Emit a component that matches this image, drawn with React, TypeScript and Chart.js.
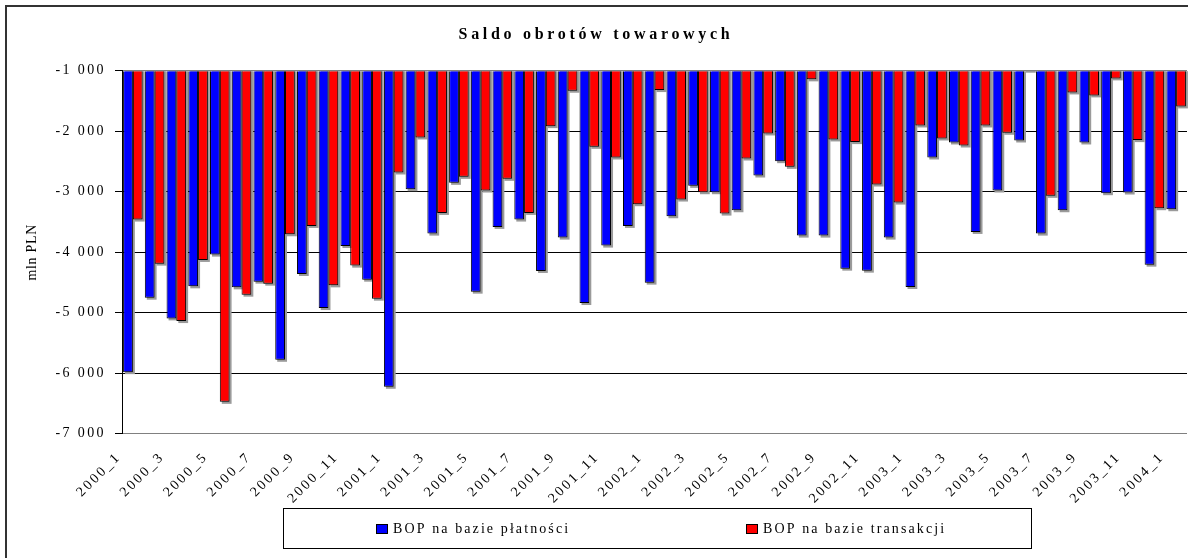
import React, { useEffect, useRef } from 'react';
import { Chart, registerables } from 'chart.js';

Chart.register(...registerables);

const chartTitle = 'Saldo obrotów towarowych';
const yAxisTitle = 'mln PLN';
const seriesNames = ['BOP na bazie płatności', 'BOP na bazie transakcji'];
const seriesColors = ['#0000FF', '#FF0000'];

const categories = [
  '2000_1', '2000_2', '2000_3', '2000_4', '2000_5', '2000_6', '2000_7', '2000_8', '2000_9', '2000_10', '2000_11', '2000_12',
  '2001_1', '2001_2', '2001_3', '2001_4', '2001_5', '2001_6', '2001_7', '2001_8', '2001_9', '2001_10', '2001_11', '2001_12',
  '2002_1', '2002_2', '2002_3', '2002_4', '2002_5', '2002_6', '2002_7', '2002_8', '2002_9', '2002_10', '2002_11', '2002_12',
  '2003_1', '2003_2', '2003_3', '2003_4', '2003_5', '2003_6', '2003_7', '2003_8', '2003_9', '2003_10', '2003_11', '2003_12',
  '2004_1',
];

const bopPlatnosci = [
  -5981, -4751, -5093, -4563, -4039, -4580, -4486, -5777, -4359, -4922, -3896, -4453,
  -6223, -2958, -3692, -2853, -4651, -3581, -3460, -4309, -3758, -4839, -3890, -3565,
  -4502, -3405, -2903, -3008, -3306, -2732, -2495, -3725, -3725, -4271, -4304, -3758,
  -4574, -2434, -2186, -3664, -2980, -2153, -3692, -3306, -2186, -3024, -3013, -4205,
  -3289,
];

const bopTransakcji = [
  -3460, -4188, -5137, -4127, -6472, -4701, -4519, -3703, -3565, -4547, -4221, -4767,
  -2682, -2103, -3350, -2754, -2980, -2787, -3350, -1916, -1331, -2258, -2434, -3206,
  -1320, -3129, -3008, -3361, -2451, -2037, -2589, -1143, -2136, -2180, -2881, -3179,
  -1905, -2120, -2236, -1905, -2026, null, -3068, -1359, -1408, -1127, -2147, -3272,
  -1590,
];

const yMin = -7000;
const yMax = -1000;
const yStep = 1000;

const FONT = "'Liberation Serif', 'Times New Roman', serif";

function formatTick(v: number): string {
  const s = String(Math.abs(v)).replace(/\B(?=(\d{3})+(?!\d))/g, ' ');
  return (v < 0 ? '-' : '') + s;
}

const decorPlugin = {
  id: 'decor',
  beforeUpdate(chart: any) {
    chart.ctx.letterSpacing = '2.4px';
  },
  beforeDraw(chart: any) {
    const ctx = chart.ctx;
    ctx.save();
    ctx.fillStyle = '#ffffff';
    ctx.fillRect(0, 0, chart.width, chart.height);
    ctx.restore();
    ctx.letterSpacing = '2.4px';
  },
  beforeDatasetsDraw(chart: any) {
    // Excel-like drop shadow behind the bars
    const ctx = chart.ctx;
    const area = chart.chartArea;
    ctx.save();
    ctx.beginPath();
    ctx.rect(area.left, area.top, area.right - area.left + 3, area.bottom - area.top + 3);
    ctx.clip();
    ctx.fillStyle = '#9a9a9a';
    chart.data.datasets.forEach((_ds: any, di: number) => {
      const meta = chart.getDatasetMeta(di);
      meta.data.forEach((el: any) => {
        if (el.skip || el.y == null || isNaN(el.y)) return;
        const top = Math.min(el.y, el.base);
        const h = Math.abs(el.y - el.base);
        ctx.fillRect(el.x - el.width / 2 + 2, top, el.width, h + 2);
      });
    });
    ctx.restore();
  },
  afterDraw(chart: any) {
    const ctx = chart.ctx;
    const area = chart.chartArea;
    ctx.save();
    ctx.fillStyle = '#333333';
    ctx.fillRect(5, 5, 2, chart.height - 5);
    ctx.fillRect(5, 5, chart.width - 5, 2);

    ctx.letterSpacing = '3.7px';
    ctx.font = `bold 16px ${FONT}`;
    ctx.fillStyle = '#000';
    ctx.textAlign = 'center';
    ctx.textBaseline = 'middle';
    ctx.fillText(chartTitle, chart.width / 2 + 2, 35);

    ctx.save();
    ctx.letterSpacing = '0.7px';
    ctx.font = `14px ${FONT}`;
    ctx.translate(32, (area.top + area.bottom) / 2);
    ctx.rotate(-Math.PI / 2);
    ctx.fillText(yAxisTitle, 0, 0);
    ctx.restore();

    const box = { x: 283.5, y: 508.5, w: 748, h: 40 };
    ctx.strokeStyle = '#000';
    ctx.lineWidth = 1;
    ctx.strokeRect(box.x, box.y, box.w, box.h);
    ctx.letterSpacing = '2.1px';
    ctx.font = `14px ${FONT}`;
    ctx.textAlign = 'left';
    ctx.textBaseline = 'middle';
    chart.data.datasets.forEach((ds: any, i: number) => {
      const sx = 376 + i * 370;
      ctx.fillStyle = ds.backgroundColor;
      ctx.fillRect(sx + 0.5, 524.5, 11, 9);
      ctx.strokeStyle = '#000';
      ctx.strokeRect(sx + 0.5, 524.5, 11, 9);
      ctx.fillStyle = '#000';
      ctx.fillText(ds.label, sx + 17, 529.5);
    });
    ctx.restore();
  },
};

export default function App() {
  const ref = useRef<HTMLCanvasElement | null>(null);

  useEffect(() => {
    if (!ref.current) return;
    const chart = new Chart(ref.current, {
      type: 'bar',
      data: {
        labels: categories,
        datasets: [
          {
            label: seriesNames[0],
            data: bopPlatnosci,
            backgroundColor: seriesColors[0],
            borderColor: '#000',
            borderWidth: 1,
            base: yMax,
          } as any,
          {
            label: seriesNames[1],
            data: bopTransakcji,
            backgroundColor: seriesColors[1],
            borderColor: '#000',
            borderWidth: 1,
            base: yMax,
          } as any,
        ],
      },
      options: {
        animation: false,
        responsive: false,
        devicePixelRatio: 1,
        layout: { padding: { left: 0, right: 1, top: 70.7, bottom: 0 } },
        datasets: {
          bar: { categoryPercentage: 0.9, barPercentage: 1.0 },
        },
        plugins: {
          legend: { display: false },
          title: { display: false },
          tooltip: { enabled: false },
        },
        scales: {
          x: {
            grid: { display: false },
            border: { display: false },
            ticks: {
              autoSkip: false,
              minRotation: 45,
              maxRotation: 45,
              padding: 7,
              labelOffset: -14,
              color: '#000',
              font: { family: FONT, size: 14 },
              callback: (_v: any, idx: number) => (idx % 2 === 0 ? categories[idx] : ''),
            },
            afterFit: (scale: any) => {
              scale.height = 124.2;
              scale.paddingLeft = 0;
              scale.paddingRight = 0;
            },
          },
          y: {
            min: yMin,
            max: yMax,
            grid: {
              color: (c: any) => (c.tick && (c.tick.value === yMax || c.tick.value === yMin) ? '#808080' : '#000'),
              lineWidth: 1,
              drawTicks: true,
              tickLength: 7,
              tickColor: '#000',
            },
            border: { display: true, color: '#000', width: 1 },
            ticks: {
              stepSize: yStep,
              padding: 9,
              color: '#000',
              font: { family: FONT, size: 14 },
              callback: (v: any) => formatTick(Number(v)),
            },
            afterFit: (scale: any) => {
              scale.width = 122;
              scale.paddingTop = 0;
              scale.paddingBottom = 0;
            },
          },
        },
      },
      plugins: [decorPlugin],
    });
    return () => chart.destroy();
  }, []);

  return (
    <div style={{ position: 'fixed', left: 0, top: 0, width: 1188, height: 558, background: '#fff', overflow: 'hidden' }}>
      <canvas ref={ref} width={1188} height={558} style={{ width: 1188, height: 558, display: 'block' }} />
    </div>
  );
}
